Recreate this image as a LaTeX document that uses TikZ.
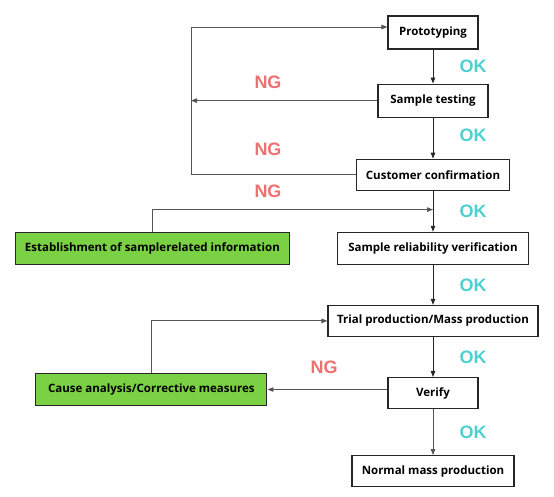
\documentclass[tikz,border=0pt]{standalone}
\usepackage{fontspec}
\setmainfont{Open Sans}
\newfontfamily\lblfont{Liberation Sans}
\usetikzlibrary{positioning, arrows.meta, calc}

\definecolor{okcyan}{HTML}{4FD0D0}
\definecolor{ngred}{HTML}{EE7070}
\definecolor{fixgreen}{HTML}{79D143}
\definecolor{loopgray}{HTML}{555555}

\begin{document}
\begin{tikzpicture}[
				x=1pt, y=-1pt,
				% Define Node Styles
				stepbox/.style={draw=black!85, line width=1.1pt, rectangle, minimum height=32pt, inner sep=2pt, align=center, font=\bfseries\fontsize{11.5}{13}\selectfont},
				fixbox/.style={stepbox, fill=fixgreen},
				oklabel/.style={text=okcyan, font=\lblfont\bfseries\fontsize{18}{20}\selectfont},
				nglabel/.style={text=ngred, font=\lblfont\bfseries\fontsize{18}{20}\selectfont},
				% Define Arrow Styles
				flow/.style={-{Triangle[length=6pt, width=4.5pt]}, line width=1pt, black!85},
				loop/.style={-{Triangle[length=6pt, width=4.5pt]}, line width=0.9pt, loopgray}
				]
				\useasboundingbox (0,0) rectangle (554,496);
				
				% Main column
				\node[stepbox, minimum width=90pt, minimum height=33pt] (Proto) at (433,32.5) {Prototyping};
				\node[stepbox, minimum width=110pt, minimum height=33pt, below=34pt of Proto] (Test) {Sample testing};
				\node[stepbox, minimum width=153pt, minimum height=31pt, below=41pt of Test] (Confirm) {Customer confirmation};
				\node[stepbox, minimum width=191pt, below=41pt of Confirm] (Reliab) {Sample reliability verification};
				\node[stepbox, minimum width=210pt, minimum height=31pt, below=40pt of Reliab] (Trial) {Trial production/Mass production};
				\node[stepbox, minimum width=90pt, minimum height=31pt, below=40pt of Trial] (Verify) {Verify};
				\node[stepbox, minimum width=162pt, minimum height=31pt, below=46pt of Verify] (Normal) {Normal mass production};
				
				% Side boxes
				\node[fixbox, minimum width=274pt, left=47pt of Reliab] (Info) {Establishment of samplerelated information};
				\node[fixbox, minimum width=231pt, left=120pt of Verify, yshift=3.5pt] (Cause) {Cause analysis/Corrective measures};
				
				% OK path
				\draw[flow] (Proto) -- (Test) node[midway, oklabel, xshift=40pt] {OK};
				\draw[flow] (Test) -- (Confirm) node[midway, oklabel, xshift=40pt, yshift=3pt] {OK};
				\draw[flow] (Confirm) -- (Reliab) node[midway, oklabel, xshift=40pt] {OK};
				\draw[flow] (Reliab) -- (Trial) node[midway, oklabel, xshift=40pt] {OK};
				\draw[flow] (Trial) -- (Verify) node[midway, oklabel, xshift=40pt] {OK};
				\draw[loop] (Verify) -- (Normal) node[midway, oklabel, xshift=40pt] {OK};
				
				% NG loops
				\coordinate (loopTop) at (191,27);
				\coordinate (infoJoin) at ($(Confirm.south)!0.46!(Reliab.north)$);
				\draw[loop] (Confirm.west) -| (loopTop) -- (loopTop -| Proto.west);
				\draw[loop] (Test.west) -- (Test.west -| loopTop);
				\draw[loop] (Info.north) |- (infoJoin);
				\draw[loop] (Verify.west |- Cause.east) -- (Cause.east);
				\draw[loop] (Cause.north) |- (Trial.west);
				
				\node[nglabel] (ng1) at (268,82) {NG};
				\node[nglabel] (ng2) at (268,149) {NG};
				\node[nglabel] (ng3) at (268,191) {NG};
				\node[nglabel] (ng4) at (324,367) {NG};
				
			\end{tikzpicture}
\end{document}
